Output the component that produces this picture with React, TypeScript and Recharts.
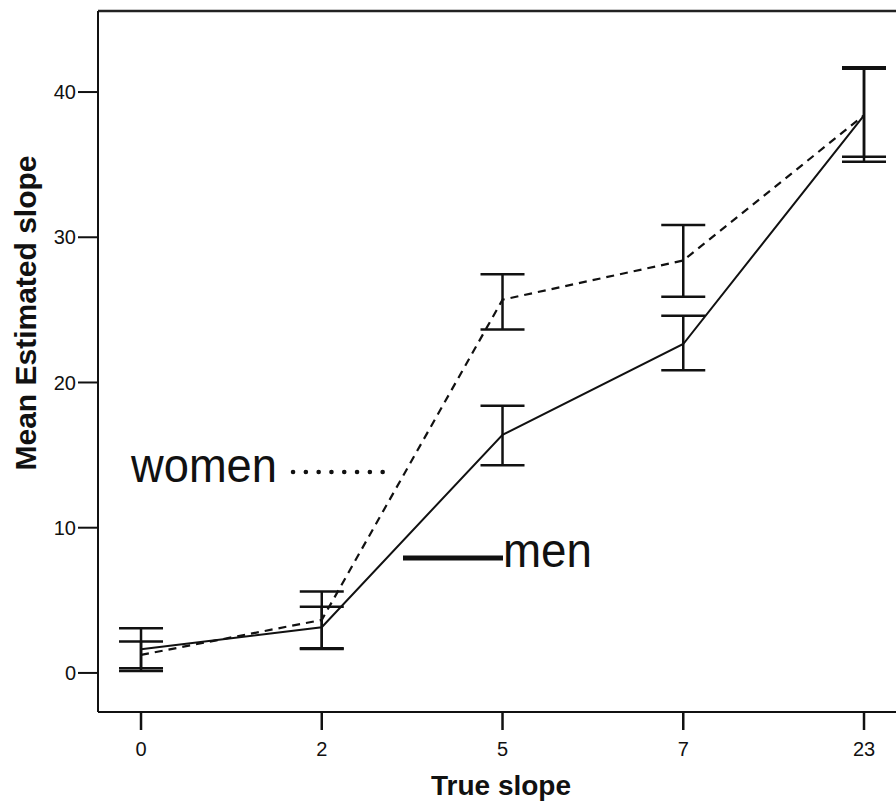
import { ErrorBar, Label, Line, LineChart, ReferenceLine, XAxis, YAxis } from "recharts";

// True slope categories (x) and mean estimated slope per group (y)
const categories = ["0", "2", "5", "7", "23"];
const menMean = [1.63, 3.15, 16.4, 22.65, 38.4];
const menLow = [0.13, 1.65, 14.3, 20.85, 35.2];
const menHigh = [3.07, 4.55, 18.4, 24.6, 41.6];
const womenMean = [1.24, 3.65, 25.7, 28.4, 38.4];
const womenLow = [0.32, 1.7, 23.65, 25.9, 35.55];
const womenHigh = [2.16, 5.6, 27.45, 30.85, 41.7];
const yTicks = [0, 10, 20, 30, 40];

const FONT = '"Liberation Sans", Arial, Helvetica, sans-serif';
const INK = "#111";

const data = categories.map((label, i) => ({
  idx: i,
  label,
  men: menMean[i],
  menErr: [menMean[i] - menLow[i], menHigh[i] - menMean[i]],
  women: womenMean[i],
  womenErr: [womenMean[i] - womenLow[i], womenHigh[i] - womenMean[i]],
}));

const xDomain = [-0.238, 4.177];
const yDomain = [-2.69, 45.58];

function GroupKey() {
  return (
    <svg
      width={896}
      height={806}
      style={{ position: "absolute", left: 0, top: 0, pointerEvents: "none" }}
    >
      <text x={131} y={482} fontSize={48} textLength={146} lengthAdjust="spacingAndGlyphs" fill={INK} fontFamily={FONT}>
        women
      </text>
      <line x1={293} y1={472} x2={395} y2={472} stroke={INK} strokeWidth={4.5} strokeLinecap="round" strokeDasharray="0.1 12.7" />
      <line x1={403} y1={558} x2={503} y2={558} stroke={INK} strokeWidth={5} />
      <text x={503} y={567} fontSize={48} textLength={89} lengthAdjust="spacingAndGlyphs" fill={INK} fontFamily={FONT}>
        men
      </text>
    </svg>
  );
}

const xTick = ({ x, y, payload }: any) => (
  <text x={x} y={y} dy="0.71em" textAnchor="middle" fontSize={20} fill={INK} fontFamily={FONT}>
    {categories[payload.value]}
  </text>
);

export default function App() {
  return (
    <div
      style={{
        position: "absolute",
        left: 0,
        top: 0,
        width: 896,
        height: 806,
        background: "#fff",
        fontFamily: FONT,
      }}
    >
      <LineChart width={896} height={806} data={data} margin={{ top: 11, right: 0, bottom: 0, left: 0 }}>
        <XAxis
          dataKey="idx"
          type="number"
          domain={xDomain}
          allowDataOverflow
          ticks={[0, 1, 2, 3, 4]}
          height={94}
          tickSize={18}
          tickMargin={12}
          tick={xTick}
          tickLine={{ stroke: INK, strokeWidth: 2.5 }}
          axisLine={{ stroke: INK, strokeWidth: 2 }}
        >
          <Label
            content={() => (
              <text x={501} y={795} textAnchor="middle" fontSize={28} fontWeight="bold" fill={INK} fontFamily={FONT}>
                True slope
              </text>
            )}
          />
        </XAxis>
        <YAxis
          type="number"
          domain={yDomain}
          allowDataOverflow
          ticks={yTicks}
          width={98}
          tickSize={20}
          tickMargin={2}
          tick={{ fill: INK, fontSize: 20, fontFamily: FONT }}
          tickLine={{ stroke: INK, strokeWidth: 2 }}
          axisLine={{ stroke: INK, strokeWidth: 2 }}
        >
          <Label
            content={() => (
              <text
                x={36}
                y={313}
                transform="rotate(-90 36 313)"
                textAnchor="middle"
                fontSize={30}
                fontWeight="bold"
                fill={INK}
                fontFamily={FONT}
              >
                Mean Estimated slope
              </text>
            )}
          />
        </YAxis>
        {/* frame top edge */}
        <ReferenceLine y={yDomain[1]} stroke="#222" strokeWidth={2.5} ifOverflow="visible" />
        <Line
          dataKey="women"
          stroke={INK}
          strokeWidth={2.2}
          strokeDasharray="8 6"
          dot={false}
          activeDot={false}
          isAnimationActive={false}
        >
          <ErrorBar dataKey="womenErr" direction="y" width={22} stroke={INK} strokeWidth={2.5} isAnimationActive={false} />
        </Line>
        <Line
          dataKey="men"
          stroke={INK}
          strokeWidth={2}
          dot={false}
          activeDot={false}
          isAnimationActive={false}
        >
          <ErrorBar dataKey="menErr" direction="y" width={22} stroke={INK} strokeWidth={2.5} isAnimationActive={false} />
        </Line>
      </LineChart>
      <GroupKey />
    </div>
  );
}
